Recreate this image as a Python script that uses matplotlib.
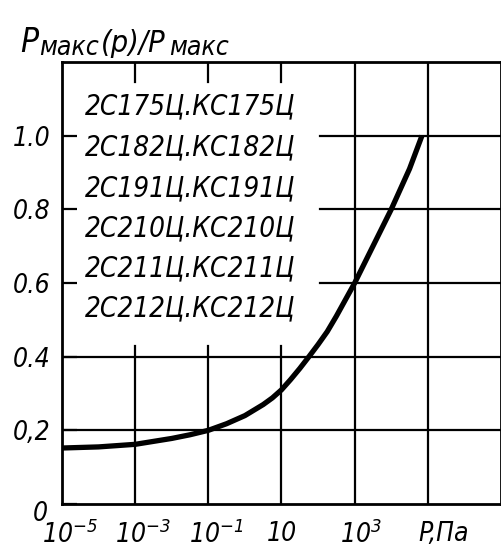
import matplotlib
matplotlib.use("Agg")
import matplotlib.pyplot as plt
import matplotlib.transforms as mtransforms
import numpy as np

# data
log_p = [-5, -4, -3, -2, -1.5, -1, -0.5, 0, 0.5, 0.75, 1, 1.25, 1.5, 1.75, 2, 2.25,
         2.5, 2.75, 3, 3.5, 4, 4.5, 4.84]
ratio = [0.152, 0.155, 0.162, 0.178, 0.188, 0.200, 0.218, 0.24, 0.27, 0.288, 0.31,
         0.338, 0.368, 0.40, 0.433, 0.468, 0.51, 0.555, 0.60, 0.70, 0.80, 0.91, 1.0]
pressure = [10.0 ** v for v in log_p]

x_ticks = [1e-5, 1e-3, 1e-1, 1e1, 1e3, 1e5]
x_tick_labels = [r"$10^{-5}$", r"$10^{-3}$", r"$10^{-1}$", "10", r"$10^{3}$", "P,Па"]
x_label_shift = [8, 8, 8, 0, 6, 16]
y_ticks = [0, 0.2, 0.4, 0.6, 0.8, 1.0]
y_tick_labels = ["0", "0,2", "0.4", "0.6", "0.8", "1.0"]
devices = ["2С175Ц.КС175Ц", "2С182Ц.КС182Ц", "2С191Ц.КС191Ц",
           "2С210Ц.КС210Ц", "2С211Ц.КС211Ц", "2С212Ц.КС212Ц"]

plt.rcParams['font.family'] = ['DejaVu Sans']
plt.rcParams['font.style'] = 'italic'
plt.rcParams['font.stretch'] = 'condensed'
plt.rcParams['mathtext.fontset'] = 'custom'
plt.rcParams['mathtext.rm'] = 'DejaVu Sans:italic'
plt.rcParams['mathtext.it'] = 'DejaVu Sans:italic'

W, H = 502, 550
fig = plt.figure(figsize=(W / 100, H / 100), dpi=100)
ax = fig.add_axes([62 / W, (H - 504) / H, (W - 63) / W, (504 - 62) / H])
ax.set_xscale('log')
ax.set_xlim(1e-5, 1e7)
ax.set_ylim(0, 1.2)

lw_grid = 1.6
for yv in [0.2, 0.4]:
    ax.axhline(yv, color='black', lw=lw_grid)
for yv in [0.6, 0.8, 1.0]:
    ax.plot([1.1e2, 1e7], [yv, yv], color='black', lw=lw_grid)
for xv in [1e-3, 1e-1, 1e1]:
    ax.plot([xv, xv], [0, 0.43], color='black', lw=lw_grid)
    ax.plot([xv, xv], [1.145, 1.2], color='black', lw=lw_grid)
for xv in [1e3, 1e5]:
    ax.axvline(xv, color='black', lw=lw_grid)

ax.plot(pressure, ratio, color='black', lw=3.8, solid_capstyle='butt',
        solid_joinstyle='round')

for s in ax.spines.values():
    s.set_linewidth(2.0)

ax.set_xticks(x_ticks)
ax.set_xticklabels(x_tick_labels, fontsize=19)
ax.xaxis.set_minor_locator(matplotlib.ticker.NullLocator())
ax.tick_params(axis='x', length=0, pad=12)
for lab, dx in zip(ax.get_xticklabels(), x_label_shift):
    lab.set_transform(lab.get_transform() +
                      mtransforms.ScaledTranslation(dx / 100, 0, fig.dpi_scale_trans))
ax.set_yticks(y_ticks)
ax.set_yticklabels(y_tick_labels, fontsize=19)
ax.tick_params(axis='y', direction='in', length=11, width=1.6, pad=8)
zero_lab = ax.get_yticklabels()[0]
zero_lab.set_transform(zero_lab.get_transform() +
                       mtransforms.ScaledTranslation(-0.03, -0.07, fig.dpi_scale_trans))

ident = mtransforms.IdentityTransform()
line_y = [106, 147, 188, 228, 268, 308]
for txt, yy in zip(devices, line_y):
    fig.text(190, H - yy, txt, transform=ident, fontsize=20,
             ha='center', va='center')

# y label: P_макс(p)/P_макс
fig.text(20, H - 52, "P", transform=ident, fontsize=24, ha='left', va='baseline')
fig.text(39, H - 55, "макс", transform=ident, fontsize=19, ha='left', va='baseline')
fig.text(101, H - 52, "(p)/P", transform=ident, fontsize=22, ha='left', va='baseline')
fig.text(169, H - 55, "макс", transform=ident, fontsize=19, ha='left', va='baseline')

fig.savefig("out.png", dpi=100)
